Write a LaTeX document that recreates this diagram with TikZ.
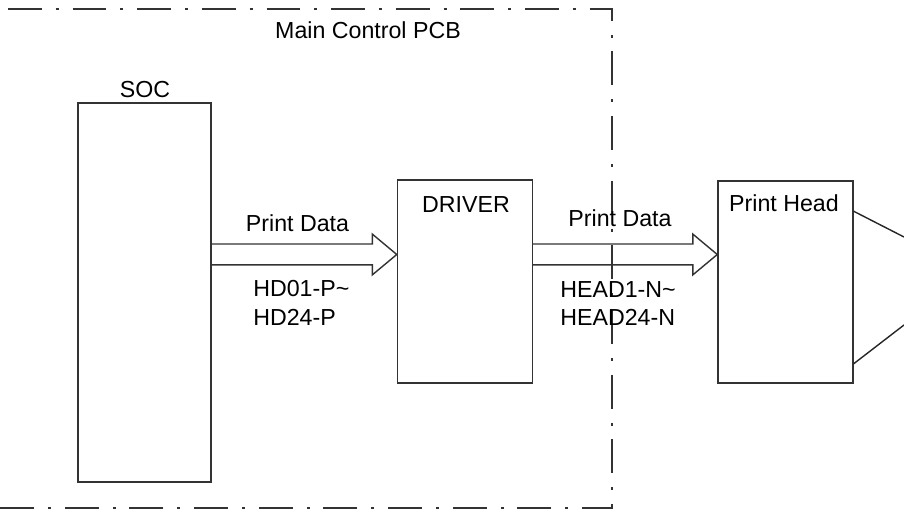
\documentclass[tikz,border=0pt]{standalone}
\usepackage{fontspec}
\setmainfont{Liberation Sans}
\usetikzlibrary{calc}
\tikzset{
  font=\fontsize{13.2pt}{16.2pt}\selectfont,
  block/.style={
    draw=black!80,
    line width=0.85pt,
    inner sep=0pt,
    minimum width=2.7cm
  },
  lab/.style={
    inner sep=0pt,
    text=black
  },
  siglab/.style={
    inner sep=0pt,
    align=left,
    anchor=north west
  },
  pcbline/.style={
    draw=black!80,
    line width=0.75pt,
    dash pattern=on 19.3pt off 7.9pt on 1.7pt off 7.9pt,
    dash phase=32.3pt
  },
  busarrow/.style={
    draw=black!80,
    line width=0.8pt,
    to path={
      let \p1=(\tikztostart), \p2=(\tikztotarget) in
      (\x1,\y1+5.95pt) -- (\x2-13.9pt,\y1+5.95pt) -- (\x2-13.9pt,\y1+11.6pt)
      -- (\x2,\y2) -- (\x2-13.9pt,\y1-11.6pt) -- (\x2-13.9pt,\y1-5.95pt)
      -- (\x1,\y1-5.95pt)}
  },
  fan/.style={
    draw=black!85,
    line width=0.8pt
  }
}
\begin{document}
\begin{tikzpicture}[x=0.02cm,y=-0.02cm]
\useasboundingbox (0,0) rectangle (904,513);

% board outline, open towards the left
\draw[pcbline] (0,9) -- (612,9) -- (612,508) -- (0,508);
\node[lab] (pcb) at (368,30) {Main Control PCB};

\node[block, minimum width=2.66cm, minimum height=7.58cm] (soc) at (144.5,292.5) {};
\node[lab] (soclbl) at (145,90) {SOC};

\node[block, minimum height=4.06cm] (driver) at (465,281.5) {};
\node[lab] (drvlbl) at (466,205) {DRIVER};

\node[block, minimum height=4.04cm] (head) at (785.5,282) {};
\node[lab] (headlbl) at (784,203) {Print Head};

% data bus level
\coordinate (bus) at (0,254.5);
\draw[busarrow] (soc.east |- bus) to (driver.west |- bus);
\draw[busarrow] (driver.east |- bus) to (head.west |- bus);

\node[lab] (data1) at (297.5,223) {Print Data};
\node[siglab] (sig1) at (253,280) {HD01-P\textasciitilde\\HD24-P};
\node[lab] (data2) at (620,218) {Print Data};
\node[siglab] (sig2) at (560,281) {HEAD1-N\textasciitilde\\HEAD24-N};

% fan-out to the right edge
\coordinate (fanA) at (904,237);
\coordinate (fanB) at (904,325);
\draw[fan] ($(head.north east)+(0,31)$) -- (fanA);
\draw[fan] ($(head.south east)+(0,-20)$) -- (fanB);

\end{tikzpicture}
\end{document}
